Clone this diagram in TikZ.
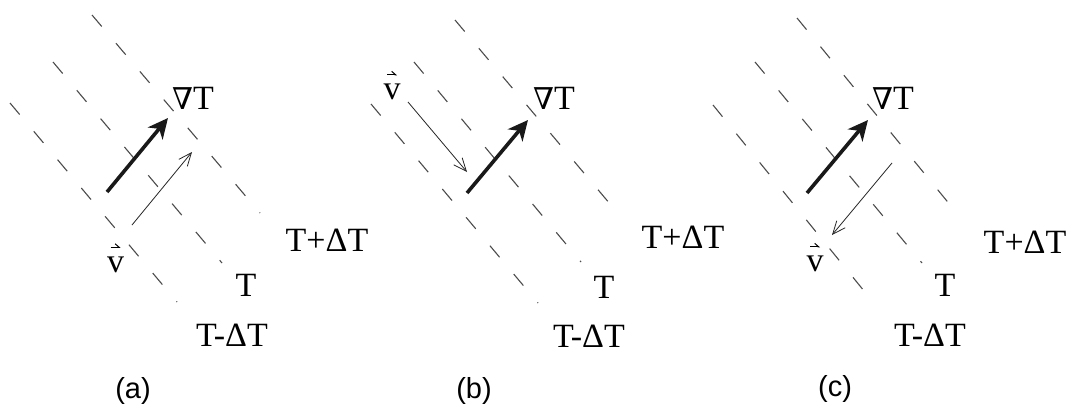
\documentclass[tikz,border=0pt]{standalone}
\usepackage{fontspec}
\setmainfont{Liberation Serif}
\newfontfamily\capfont{Liberation Sans}
\newfontfamily\nablafont{DejaVu Serif}
\usetikzlibrary{arrows.meta}
\newcommand{\mynabla}{{\nablafont\fontsize{30}{36}\selectfont ∇}}
\tikzset{
  isoline/.style={draw=black!70, line width=1.1pt, dash pattern=on 15pt off 22pt},
  gradarrow/.style={draw=black!90, line width=3.6pt, -{Stealth[length=20pt,width=19pt,inset=6pt]}},
  velarrow/.style={draw=black!85, line width=0.8pt, -{Straight Barb[length=13pt,width=11pt]}},
  lbl/.style={font=\fontsize{34}{40}\selectfont, inner sep=0pt},
  vlbl/.style={font=\fontsize{34}{40}\selectfont, inner sep=0pt},
  vecmark/.style={draw=black, line width=1pt, -{Straight Barb[left,length=4pt,width=7pt]}},
  panelcap/.style={font=\capfont\fontsize{29}{34}\selectfont, inner sep=0pt},
}
\begin{document}
\begin{tikzpicture}[x=1pt,y=-1pt]
\useasboundingbox[fill=white] (0,0) rectangle (1070,410);

% ---------- panel (a)
\begin{scope}
\coordinate (a-A1) at (10,103);  \coordinate (a-A2) at (177,302);
\coordinate (a-B1) at (53,62);   \coordinate (a-B2) at (222,263);
\coordinate (a-C1) at (92,15);   \coordinate (a-C2) at (260,213);
\coordinate (a-g1) at (107,192); \coordinate (a-g2) at (168,118);
\coordinate (a-v1) at (132,225); \coordinate (a-v2) at (192,152);
\draw[isoline] (a-A1) -- (a-A2);
\draw[isoline] (a-B1) -- (a-B2);
\draw[isoline] (a-C1) -- (a-C2);
\draw[gradarrow] (a-g1) -- (a-g2);
\draw[velarrow] (a-v1) -- (a-v2);
\node[lbl] (a-grad) at (193,98) {\mynabla T};
\node[lbl] (a-Tp) at (327,240) {T+ΔT};
\node[lbl] (a-T) at (246,285) {T};
\node[lbl] (a-Tm) at (232,335) {T-ΔT};
\node[vlbl] (a-v) at (115.5,264.5) {v};
\draw[vecmark] ([xshift=-5pt,yshift=9pt]a-v.north) -- ([xshift=5pt,yshift=9pt]a-v.north);
\node[panelcap] (a-cap) at (133,391) {(a)};
\end{scope}

% ---------- panel (b)
\begin{scope}[xshift=361pt]
\coordinate (b-A1) at (10,104);  \coordinate (b-A2) at (177,303);
\coordinate (b-B1) at (53,62);   \coordinate (b-B2) at (220,262);
\coordinate (b-C1) at (94,20);   \coordinate (b-C2) at (260,217);
\coordinate (b-g1) at (106,193); \coordinate (b-g2) at (167,120);
\coordinate (b-v1) at (47,102);  \coordinate (b-v2) at (106,172);
\draw[isoline] (b-A1) -- (b-A2);
\draw[isoline] (b-B1) -- (b-B2);
\draw[isoline] (b-C1) -- (b-C2);
\draw[gradarrow] (b-g1) -- (b-g2);
\draw[velarrow] (b-v1) -- (b-v2);
\node[lbl] (b-grad) at (193,98) {\mynabla T};
\node[lbl] (b-Tp) at (322,237) {T+ΔT};
\node[lbl] (b-T) at (243,287) {T};
\node[lbl] (b-Tm) at (228,336) {T-ΔT};
\node[vlbl] (b-v) at (31,92) {v};
\draw[vecmark] ([xshift=-5pt,yshift=9pt]b-v.north) -- ([xshift=5pt,yshift=9pt]b-v.north);
\node[panelcap] (b-cap) at (113,391) {(b)};
\end{scope}

% ---------- panel (c)
\begin{scope}[xshift=701pt]
\coordinate (c-A1) at (12,105);  \coordinate (c-A2) at (172,302);
\coordinate (c-B1) at (54,62);   \coordinate (c-B2) at (221,263);
\coordinate (c-C1) at (96,18);   \coordinate (c-C2) at (259,217);
\coordinate (c-g1) at (106,193); \coordinate (c-g2) at (167,120);
\coordinate (c-v1) at (191,163); \coordinate (c-v2) at (131,235);
\draw[isoline] (c-A1) -- (c-A2);
\draw[isoline] (c-B1) -- (c-B2);
\draw[isoline] (c-C1) -- (c-C2);
\draw[gradarrow] (c-g1) -- (c-g2);
\draw[velarrow] (c-v1) -- (c-v2);
\node[lbl] (c-grad) at (192,98) {\mynabla T};
\node[lbl] (c-Tp) at (324,242) {T+ΔT};
\node[lbl] (c-T) at (244,285) {T};
\node[lbl] (c-Tm) at (229,335) {T-ΔT};
\node[vlbl] (c-v) at (114,264) {v};
\draw[vecmark] ([xshift=-5pt,yshift=9pt]c-v.north) -- ([xshift=5pt,yshift=9pt]c-v.north);
\node[panelcap] (c-cap) at (134,389) {(c)};
\end{scope}
\end{tikzpicture}
\end{document}
